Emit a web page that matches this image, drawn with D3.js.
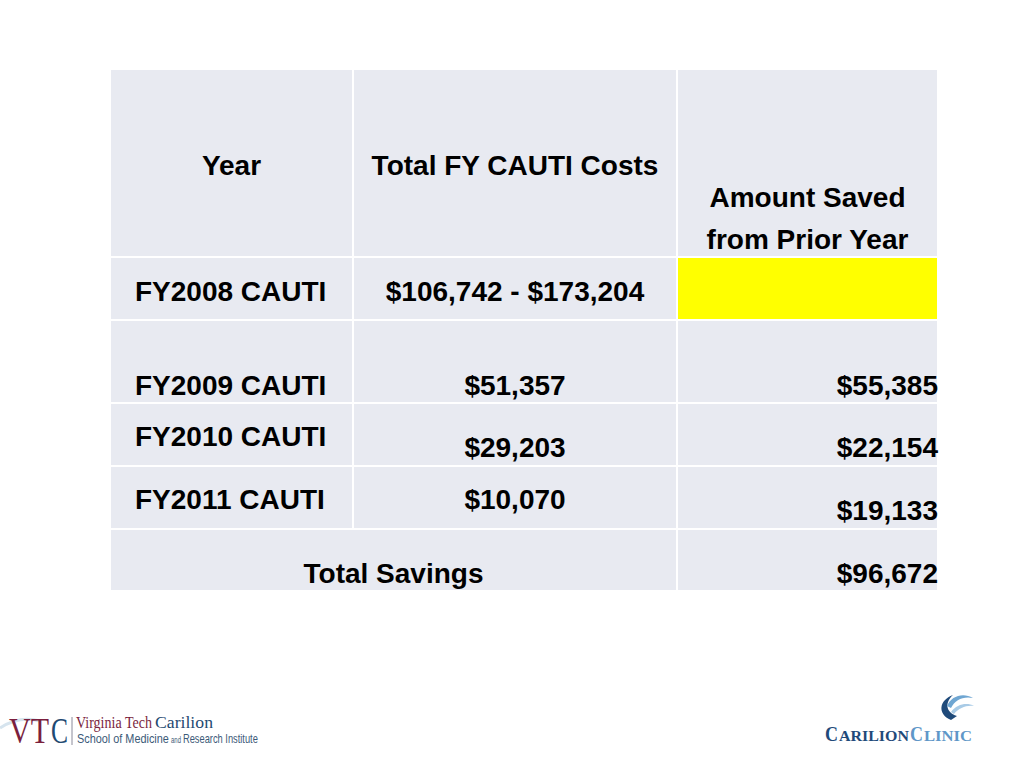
<!DOCTYPE html>
<html>
<head>
<meta charset="utf-8">
<script src="https://cdn.jsdelivr.net/npm/d3@7"></script>
<style>
  body { margin: 0; background: #fff; }
  svg { display: block; }
</style>
</head>
<body>
<div id="slide"></div>
<script>
// table content
const headers = ["Year", "Total FY CAUTI Costs", ["Amount Saved", "from Prior Year"]];
const years = ["FY2008 CAUTI", "FY2009 CAUTI", "FY2010 CAUTI", "FY2011 CAUTI"];
const costs = ["$106,742 - $173,204", "$51,357", "$29,203", "$10,070"];
const saved = [null, 55385, 22154, 19133];
const totalLabel = "Total Savings";
const totalSaved = 96672;

const width = 1024;
const height = 768;

// layout of the table (slide coordinates)
const colEdges = [110, 353, 677, 938];
const rowEdges = [69, 257, 320, 403, 466, 529, 591];
// baseline offset from row top for [year, cost, saved] in each data row
const baseOff = [[44, 44, 44], [75, 75, 75], [43, 54, 54], [43, 43, 54]];

const fmt = d3.format("$,");
const font = "'Liberation Sans', Arial, sans-serif";
const fill = "#e8eaf1";

const svg = d3.select("#slide")
    .append("svg")
    .attr("width", width)
    .attr("height", height)
    .style("font-family", font)
    .style("font-weight", "bold");

const g = svg.append("g");

function cell(x0, x1, y0, y1, color) {
    g.append("rect")
        .attr("x", x0).attr("y", y0)
        .attr("width", x1 - x0).attr("height", y1 - y0)
        .attr("fill", color)
        .attr("stroke", "#fff")
        .attr("stroke-width", 2);
}

// header row
for (let c = 0; c < 3; c++) cell(colEdges[c], colEdges[c + 1], rowEdges[0], rowEdges[1], fill);
// data rows
years.forEach((y, i) => {
    for (let c = 0; c < 3; c++) {
        const color = (c === 2 && saved[i] === null) ? "#ffff00" : fill;
        cell(colEdges[c], colEdges[c + 1], rowEdges[i + 1], rowEdges[i + 2], color);
    }
});
// total row (first two columns merged)
cell(colEdges[0], colEdges[2], rowEdges[5], rowEdges[6], fill);
cell(colEdges[2], colEdges[3], rowEdges[5], rowEdges[6], fill);

const txt = svg.append("g").attr("fill", "#000").attr("font-size", 28);

// header text
txt.append("text").attr("x", (colEdges[0] + colEdges[1]) / 2).attr("y", 175)
    .attr("text-anchor", "middle").text(headers[0]);
txt.append("text").attr("x", (colEdges[1] + colEdges[2]) / 2).attr("y", 175)
    .attr("text-anchor", "middle").text(headers[1]);
headers[2].forEach((line, k) => {
    txt.append("text").attr("x", (colEdges[2] + colEdges[3]) / 2).attr("y", 207 + k * 42)
        .attr("text-anchor", "middle").text(line);
});

// body text
years.forEach((y, i) => {
    const top = rowEdges[i + 1];
    txt.append("text").attr("x", colEdges[0] + 25).attr("y", top + baseOff[i][0]).text(y);
    txt.append("text").attr("x", (colEdges[1] + colEdges[2]) / 2).attr("y", top + baseOff[i][1])
        .attr("text-anchor", "middle").text(costs[i]);
    if (saved[i] !== null) {
        txt.append("text").attr("x", colEdges[3]).attr("y", top + baseOff[i][2])
            .attr("text-anchor", "end").text(fmt(saved[i]));
    }
});
txt.append("text").attr("x", (colEdges[0] + colEdges[2]) / 2).attr("y", rowEdges[5] + 54)
    .attr("text-anchor", "middle").text(totalLabel);
txt.append("text").attr("x", colEdges[3]).attr("y", rowEdges[5] + 54)
    .attr("text-anchor", "end").text(fmt(totalSaved));

// logo text helper: squeeze each word horizontally to the width seen in the picture
function logoText(sel, x, y, w, size, color, family, str) {
    const grp = sel.append("g");
    const t = grp.append("text")
        .attr("font-family", family).attr("font-size", size)
        .attr("fill", color).text(str);
    const natural = t.node().getComputedTextLength();
    grp.attr("transform", `translate(${x},${y}) scale(${w / natural},1)`);
    return t;
}

const serif = "'Liberation Serif', serif";
const sans = "'Liberation Sans', sans-serif";

// VTC logo (bottom left)
const vtc = svg.append("g").style("font-weight", "normal");
vtc.append("path")
    .attr("d", "M0,728 C12,720 26,717 40,721")
    .attr("fill", "none").attr("stroke", "#d6e4ee").attr("stroke-width", 3);
logoText(vtc, 9, 743, 40, 36, "#7b1f3e", serif, "VT");
logoText(vtc, 51, 743, 17, 36, "#1f4a72", serif, "C");
vtc.append("line").attr("x1", 72).attr("x2", 72).attr("y1", 717).attr("y2", 745)
    .attr("stroke", "#8a8a9a").attr("stroke-width", 1);
logoText(vtc, 76, 728, 76, 17, "#7b1f3e", serif, "Virginia Tech");
logoText(vtc, 155, 728, 58, 17, "#1f4a72", serif, "Carilion");
logoText(vtc, 77, 743, 92, 12, "#3c5a78", sans, "School of Medicine");
logoText(vtc, 171, 743, 10, 8.5, "#3c5a78", sans, "and");
logoText(vtc, 183, 743, 75, 12, "#3c5a78", sans, "Research Institute");

// Carilion Clinic logo (bottom right)
const cc = svg.append("g").style("font-weight", "bold");
cc.append("path")
    .attr("d", "M951,720 C937,714 939,700 953,695 C945,702 945,712 957,716 Z")
    .attr("fill", "#1f4a7a");
cc.append("path")
    .attr("d", "M947,706 C951,696 963,692 973,698 C963,696 955,700 951,708 Z")
    .attr("fill", "#6fa6d2");
cc.append("path")
    .attr("d", "M951,712 C957,704 967,702 974,706 C966,705 959,708 954,714 Z")
    .attr("fill", "#a9cbe6");
logoText(cc, 825, 741, 13, 20, "#1f4a7a", serif, "C");
logoText(cc, 839, 741, 70, 15, "#1f4a7a", serif, "ARILION");
logoText(cc, 910, 741, 13, 20, "#5f97c8", serif, "C");
logoText(cc, 924, 741, 48, 15, "#5f97c8", serif, "LINIC");
</script>
</body>
</html>
